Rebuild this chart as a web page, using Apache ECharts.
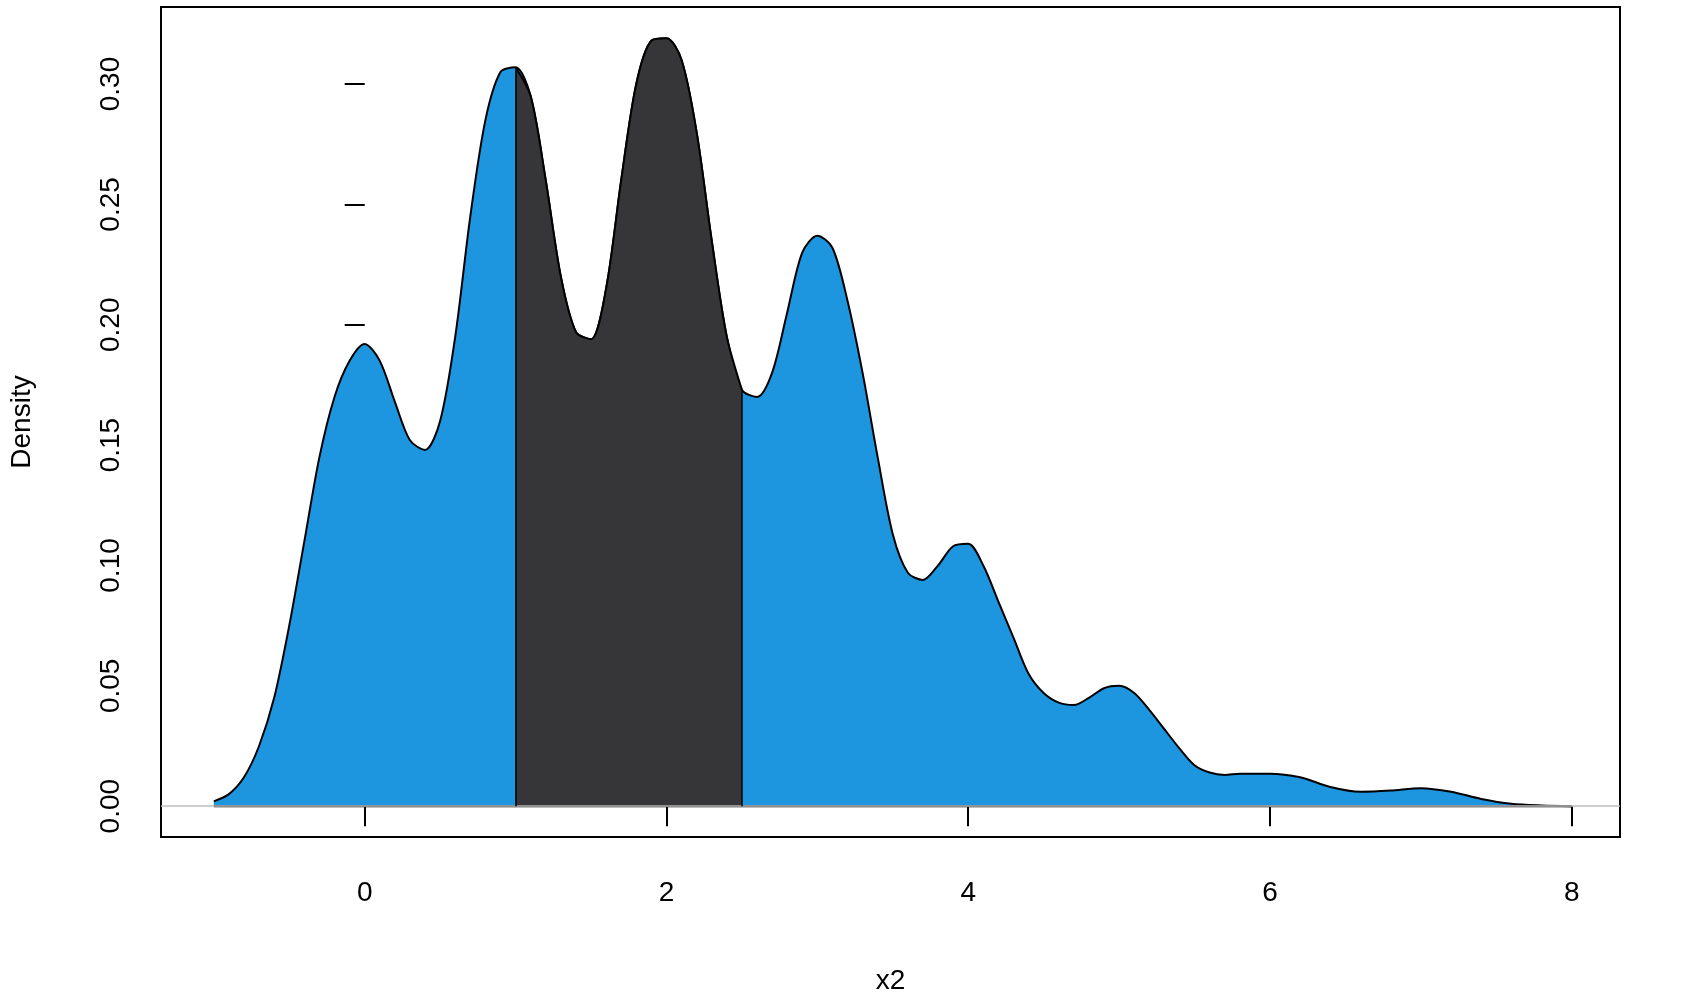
<!DOCTYPE html>
<html><head><meta charset="utf-8">
<script src="https://cdn.jsdelivr.net/npm/echarts@6/dist/echarts.min.js"></script>
<style>html,body{margin:0;background:#fff}#c{width:1700px;height:1000px}</style>
</head><body><div id="c"></div>
<script>
const xs = [-1,-0.9,-0.8,-0.7,-0.6,-0.5,-0.4,-0.3,-0.2,-0.1,0,0.1,0.2,0.3,0.4,0.5,0.6,0.7,0.8,0.9,1.0,1.1,1.2,1.3,1.4,1.5,1.6,1.7,1.8,1.9,2.0,2.1,2.2,2.3,2.4,2.5,2.6,2.7,2.8,2.9,3.0,3.1,3.2,3.3,3.4,3.5,3.6,3.7,3.8,3.9,4.0,4.1,4.2,4.3,4.4,4.5,4.6,4.7,4.8,4.9,5.0,5.1,5.2,5.3,5.4,5.5,5.6,5.7,5.8,5.9,6.0,6.2,6.4,6.6,6.8,7.0,7.2,7.4,7.6,7.8,8.0];
const density = [0.002,0.005,0.012,0.025,0.045,0.075,0.11,0.145,0.17,0.185,0.192,0.185,0.168,0.152,0.148,0.16,0.195,0.245,0.285,0.305,0.307,0.295,0.26,0.22,0.197,0.194,0.215,0.26,0.3,0.318,0.319,0.31,0.28,0.235,0.195,0.173,0.17,0.18,0.205,0.23,0.237,0.232,0.21,0.18,0.145,0.113,0.097,0.094,0.1,0.108,0.109,0.1,0.085,0.07,0.055,0.047,0.043,0.042,0.045,0.049,0.05,0.047,0.04,0.032,0.024,0.017,0.014,0.013,0.0135,0.0135,0.0135,0.012,0.008,0.006,0.0065,0.0075,0.006,0.003,0.001,0.0003,0];
const shadeFrom = 1.0, shadeTo = 2.5;
const xTicks = [0,2,4,6,8];
const yTicks = [0,0.05,0.10,0.15,0.20,0.25,0.30];

const full = xs.map((x,i)=>[x,density[i]]);
const shade = full.filter(p=>p[0]>=shadeFrom && p[0]<=shadeTo);
const yAt = x => density[xs.indexOf(x)];
const font = 'Liberation Sans, Arial, sans-serif';
const chart = echarts.init(document.getElementById('c'));
chart.setOption({
  animation:false,
  grid:{left:159,right:80,top:7,bottom:159,show:true,borderColor:'#000',borderWidth:2,backgroundColor:'transparent'},
  xAxis:{type:'value',min:-1.35,max:8.32,interval:2,name:'x2',nameLocation:'middle',nameGap:130,
    nameTextStyle:{fontSize:28,fontFamily:font,color:'#000'},
    axisLine:{show:false},splitLine:{show:false},
    axisTick:{show:true,length:20,lineStyle:{color:'#000',width:2},customValues:xTicks},
    axisLabel:{fontSize:28,fontFamily:font,color:'#000',margin:42,customValues:xTicks,formatter:v=>String(v)}},
  yAxis:{type:'value',min:-0.0128,max:0.332,name:'Density',nameLocation:'middle',nameGap:125,nameRotate:90,
    nameTextStyle:{fontSize:28,fontFamily:font,color:'#000'},
    axisLine:{show:false},splitLine:{show:false},
    axisTick:{show:true,length:20,lineStyle:{color:'#000',width:2},customValues:yTicks},
    axisLabel:{fontSize:28,fontFamily:font,color:'#000',rotate:90,margin:36,customValues:yTicks,formatter:v=>v.toFixed(2)}},
  series:[
    {type:'line',data:full,smooth:0.3,symbol:'none',lineStyle:{color:'#000',width:2},areaStyle:{color:'#1e96df',opacity:1},z:2,
     markLine:{silent:true,symbol:'none',label:{show:false},lineStyle:{color:'#bebebe',width:1.5,type:'solid'},data:[{yAxis:0}]}},
    {type:'line',data:shade,smooth:0.3,symbol:'none',lineStyle:{color:'#000',width:2},areaStyle:{color:'#363638',opacity:1},z:3,
     markLine:{silent:true,symbol:'none',label:{show:false},lineStyle:{color:'#000',width:1.5,type:'solid'},
       data:[[{coord:[shadeFrom,0]},{coord:[shadeFrom,yAt(shadeFrom)]}],[{coord:[shadeTo,0]},{coord:[shadeTo,yAt(shadeTo)]}]]}},
    {type:'line',data:[[xs[0],0],[xs[xs.length-1],0]],symbol:'none',lineStyle:{color:'#000',width:2},z:4}
  ]
});
</script></body></html>
